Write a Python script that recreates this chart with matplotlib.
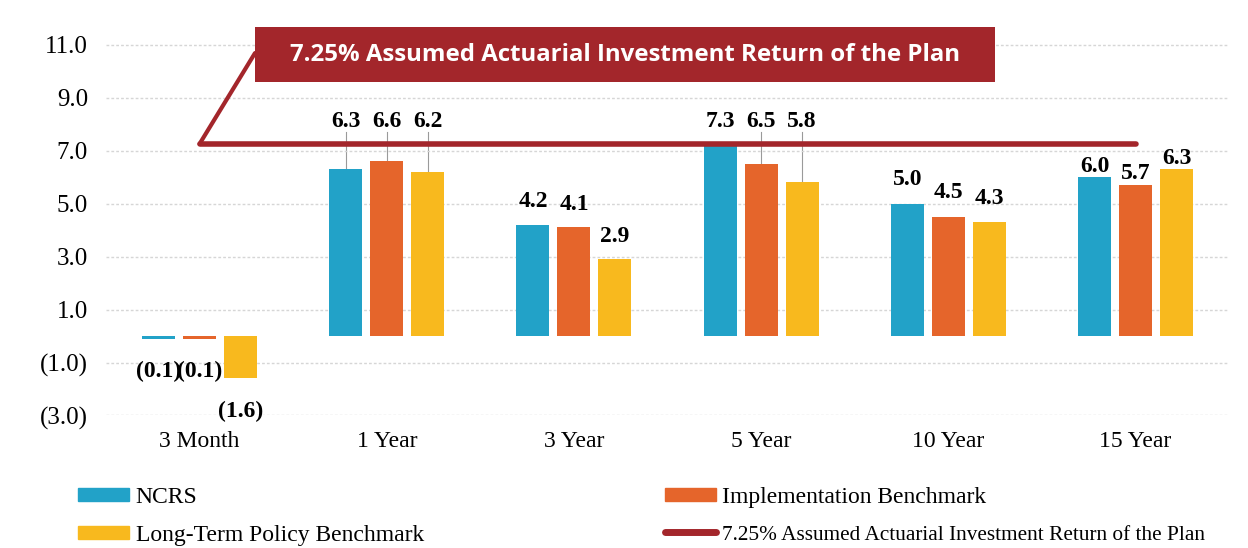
import numpy as np
import matplotlib.pyplot as plt
from matplotlib.lines import Line2D
from matplotlib.patches import Patch, Rectangle

periods = ["3 Month", "1 Year", "3 Year", "5 Year", "10 Year", "15 Year"]
ncrs = [-0.1, 6.3, 4.2, 7.3, 5.0, 6.0]
impl = [-0.1, 6.6, 4.1, 6.5, 4.5, 5.7]
ltp = [-1.6, 6.2, 2.9, 5.8, 4.3, 6.3]
assumed = [7.25] * 6
series_names = ["NCRS", "Implementation Benchmark", "Long-Term Policy Benchmark"]
line_name = "7.25% Assumed Actuarial Investment Return of the Plan"
yticks = [-3, -1, 1, 3, 5, 7, 9, 11]

c_blue = "#22A2C8"
c_orange = "#E5652B"
c_yellow = "#F8B91E"
c_red = "#A3262B"

serif = "Liberation Serif"

fig = plt.figure(figsize=(12.48, 5.48), dpi=100)
ax = fig.add_axes([0.0849, 0.2418, 0.9, 0.7252])

x = np.arange(len(periods))
step, w = 0.219, 0.176
series = [ncrs, impl, ltp]
colors = [c_blue, c_orange, c_yellow]
for i, (vals, col) in enumerate(zip(series, colors)):
    ax.bar(x + (i - 1) * step, vals, w, color=col, zorder=2)

ax.plot(x[[0, -1]], [assumed[0], assumed[-1]], color=c_red, lw=4,
        solid_capstyle="round", zorder=3)

ax.set_xlim(-0.5, 5.5)
ax.set_ylim(-3, 12)
ax.set_yticks(yticks)
ax.set_yticklabels([f"({abs(t):.1f})" if t < 0 else f"{t:.1f}" for t in yticks],
                   fontfamily=serif, fontsize=18)
ax.set_xticks(x)
ax.set_xticklabels(periods, fontfamily=serif, fontsize=17)
ax.tick_params(axis="y", length=0, pad=13)
ax.tick_params(axis="x", length=0, pad=11)
ax.grid(axis="y", color="#d6d6d6", lw=1, ls=(0, (2, 1.5)), zorder=0)
for s in ax.spines.values():
    s.set_visible(False)


def fmt(v):
    return f"({abs(v):.1f})" if v < 0 else f"{v:.1f}"


# label offsets (pixels above bar top) per period; None = lifted label with leader
offsets = [-33, None, 23, None, 24, 11]
lift_y = 8.1
for i, vals in enumerate(series):
    for j, v in enumerate(vals):
        xc = x[j] + (i - 1) * step
        off = offsets[j]
        if off is None:
            ax.text(xc, lift_y, fmt(v), ha="center", va="center", fontsize=17,
                    fontweight="bold", fontfamily=serif, zorder=4)
            if v < 7:
                ax.plot([xc, xc], [v, lift_y - 0.4], color="#9a9a9a", lw=0.8, zorder=1)
        else:
            ax.annotate(fmt(v), (xc, v), xytext=(0, off * 0.72), textcoords="offset points",
                        ha="center", va="center", fontsize=17, fontweight="bold",
                        fontfamily=serif, zorder=4)

# callout box
ax.add_patch(Rectangle((0.1327, 0.839), 0.6590, 0.138, transform=ax.transAxes,
                       facecolor=c_red, edgecolor="none", zorder=5, clip_on=False))
ax.text(0.4622, 0.907, line_name, transform=ax.transAxes, ha="center", va="center",
        color="white", fontsize=17.3, fontweight="bold", fontfamily="Open Sans", zorder=6)
ax.annotate("", xy=(0, assumed[0]), xycoords="data", xytext=(0.1327, 0.912),
            textcoords="axes fraction",
            arrowprops=dict(arrowstyle="-", color=c_red, lw=3, shrinkA=0, shrinkB=0),
            zorder=4)

handles = [Patch(color=c_blue), Patch(color=c_yellow), Patch(color=c_orange),
           Line2D([], [], color=c_red, lw=5, solid_capstyle="round")]
labels = [series_names[0], series_names[2], series_names[1], line_name]
leg = fig.legend(handles, labels, loc="upper left", bbox_to_anchor=(78 / 1248, 1 - 487 / 548),
                 ncol=2, frameon=False, borderpad=0, borderaxespad=0,
                 prop={"family": serif, "size": 17}, handlelength=2.16, handleheight=0.47,
                 handletextpad=0.28, labelspacing=0.72, columnspacing=10.2)
leg.get_texts()[3].set_fontsize(15.3)

fig.savefig("out.png", dpi=100)
